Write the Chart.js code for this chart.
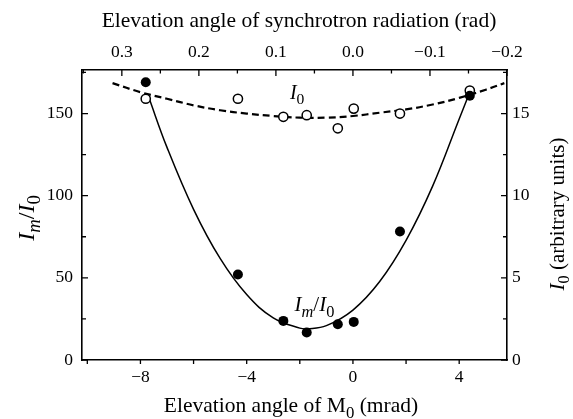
<!DOCTYPE html>
<html>
<head>
<meta charset="utf-8">
<title>Im/I0 versus elevation angle</title>
<script src="https://cdn.jsdelivr.net/npm/chart.js"></script>
<style>
  body { margin: 0; background: #fff; }
  #wrap { width: 573px; height: 419px; }
</style>
</head>
<body>
<div id="wrap"><canvas id="chart" width="573" height="419"></canvas></div>
<script>
// measured points (same angles for both series)
const angleMrad = [-7.8, -4.33, -2.62, -1.74, -0.57, 0.03, 1.77, 4.4];
const imOverI0 = [169, 52, 23.8, 16.7, 21.8, 23.2, 78.2, 160.8];
const i0Values = [15.9, 15.9, 14.8, 14.9, 14.1, 15.3, 15.0, 16.4];

// solid curve through Im/I0
const fitImX = [-7.7, -7, -6, -5, -4, -3, -2, -1.7, -1, 0, 1, 2, 3, 4, 4.35];
const fitImY = [160.5, 129.4, 91.7, 61.8, 39.8, 25.6, 19.4, 19, 20.9, 30.4, 47.6, 72.8, 105.8, 146.7, 161];

// dashed curve through I0
const fitI0X = [-9.05, -8, -7, -6, -5, -4, -3, -2, -1, 0, 1, 2, 3, 4, 5, 5.7];
const fitI0Y = [16.85, 16.3, 15.9, 15.5, 15.2, 15.0, 14.85, 14.75, 14.75, 14.85, 15.05, 15.25, 15.55, 15.95, 16.45, 16.85];

// axes
const bottomTicks = [-8, -4, 0, 4];
const bottomMinor = [-10, -6, -2, 2];
const topTicks = [0.3, 0.2, 0.1, 0.0, -0.1, -0.2];
const topMinor = [0.35, 0.25, 0.15, 0.05, -0.05, -0.15];
const leftTicks = [0, 50, 100, 150];
const leftMinor = [25, 75, 125, 175];
const rightTicks = [0, 5, 10, 15];
const rightMinor = [2.5, 7.5, 12.5, 17.5];

const xMin = -10.2, xMax = 5.8;
const radPerMrad = -0.2 / 5.8;
const yMax = 176.5;

const SERIF = '"Liberation Serif", "Times New Roman", serif';
const minus = v => String(v).replace('-', '\u2212');

function pts(xs, ys) {
    return xs.map((x, i) => ({ x: x, y: ys[i] }));
}

// text with italic / subscript parts, centred on (x, y)
function drawRich(ctx, parts, x, y, size, rot) {
    ctx.save();
    ctx.translate(x, y);
    if (rot) ctx.rotate(rot);
    const fontOf = p => (p[1] ? 'italic ' : '') + (p[2] ? size * 0.78 : size) + 'px ' + SERIF;
    let total = 0;
    const widths = parts.map(p => {
        ctx.font = fontOf(p);
        const w = ctx.measureText(p[0]).width;
        total += w;
        return w;
    });
    let cx = -total / 2;
    ctx.textAlign = 'left';
    ctx.textBaseline = 'alphabetic';
    ctx.fillStyle = '#000';
    parts.forEach((p, i) => {
        ctx.font = fontOf(p);
        ctx.fillText(p[0], cx, size * 0.34 + (p[2] ? size * 0.25 : 0));
        cx += widths[i];
    });
    ctx.restore();
}

const decorations = {
    id: 'decorations',
    afterDraw(chart) {
        const ctx = chart.ctx;
        const a = chart.chartArea;
        const s = chart.scales;
        ctx.save();
        ctx.strokeStyle = '#000';
        ctx.lineWidth = 1.3;
        ctx.beginPath();
        const mark = (vals, len, fn) => vals.forEach(v => fn(v, len));
        // bottom: outward
        const bx = (v, len) => { const p = s.x.getPixelForValue(v); ctx.moveTo(p, a.bottom); ctx.lineTo(p, a.bottom + len); };
        mark(bottomTicks, 4, bx); mark(bottomMinor, 4, bx);
        // top: inward
        const tx = (v, len) => { const p = s.x2.getPixelForValue(v); ctx.moveTo(p, a.top); ctx.lineTo(p, a.top + len); };
        mark(topTicks, 6, tx); mark(topMinor, 3.5, tx);
        // left: inward
        const ly = (v, len) => { const p = s.y.getPixelForValue(v); ctx.moveTo(a.left, p); ctx.lineTo(a.left + len, p); };
        mark(leftTicks, 6, ly); mark(leftMinor, 4, ly);
        // right: inward
        const ry = (v, len) => { const p = s.y2.getPixelForValue(v); ctx.moveTo(a.right, p); ctx.lineTo(a.right - len, p); };
        mark(rightTicks, 6, ry); mark(rightMinor, 4, ry);
        ctx.stroke();
        ctx.restore();

        // axis titles
        drawRich(ctx, [['Elevation angle of synchrotron radiation (rad)', false, false]], 299, 20, 21.5, 0);
        drawRich(ctx, [['Elevation angle of M', false, false], ['0', false, true], [' (mrad)', false, false]], 291, 405, 21.5, 0);
        drawRich(ctx, [['I', true, false], ['m', true, true], ['/', false, false], ['I', true, false], ['0', false, true]], 26, 218, 24, -Math.PI / 2);
        drawRich(ctx, [['I', true, false], ['0', false, true], [' (arbitrary units)', false, false]], 557, 214, 21, -Math.PI / 2);

        // curve labels
        drawRich(ctx, [['I', true, false], ['0', false, true]],
            s.x.getPixelForValue(-2.1), s.y.getPixelForValue(163), 20, 0);
        drawRich(ctx, [['I', true, false], ['m', true, true], ['/', false, false], ['I', true, false], ['0', false, true]],
            s.x.getPixelForValue(-1.45), s.y.getPixelForValue(34), 21, 0);
    }
};

const tickFont = { family: SERIF, size: 17.5 };

new Chart(document.getElementById('chart'), {
    type: 'scatter',
    data: {
        datasets: [
            {
                label: 'Im/I0',
                data: pts(angleMrad, imOverI0),
                yAxisID: 'y',
                xAxisID: 'x',
                pointRadius: 5,
                pointBackgroundColor: '#000',
                pointBorderColor: '#000',
                pointBorderWidth: 0,
                order: 0
            },
            {
                label: 'I0',
                data: pts(angleMrad, i0Values),
                yAxisID: 'y2',
                xAxisID: 'x',
                pointRadius: 4.6,
                pointBackgroundColor: '#fff',
                pointBorderColor: '#000',
                pointBorderWidth: 1.5,
                order: 1
            },
            {
                label: 'Im/I0 fit',
                data: pts(fitImX, fitImY),
                yAxisID: 'y',
                xAxisID: 'x',
                showLine: true,
                tension: 0.4,
                borderColor: '#000',
                borderWidth: 1.5,
                pointRadius: 0,
                order: 3
            },
            {
                label: 'I0 fit',
                data: pts(fitI0X, fitI0Y),
                yAxisID: 'y2',
                xAxisID: 'x',
                showLine: true,
                tension: 0.4,
                borderColor: '#000',
                borderWidth: 2.2,
                borderDash: [7, 4],
                pointRadius: 0,
                order: 2
            }
        ]
    },
    options: {
        responsive: false,
        animation: false,
        layout: { padding: 0 },
        plugins: {
            legend: { display: false },
            tooltip: { enabled: false }
        },
        scales: {
            x: {
                type: 'linear',
                position: 'bottom',
                min: xMin,
                max: xMax,
                afterBuildTicks: sc => { sc.ticks = bottomTicks.map(v => ({ value: v })); },
                afterFit: sc => { sc.height = 59; },
                ticks: { color: '#000', font: tickFont, padding: 7, callback: v => minus(v) },
                grid: { display: false, drawTicks: false, tickLength: 0 },
                border: { display: true, color: '#000', width: 1.6 }
            },
            x2: {
                type: 'linear',
                position: 'top',
                reverse: true,
                min: xMax * radPerMrad,
                max: xMin * radPerMrad,
                afterBuildTicks: sc => { sc.ticks = topTicks.map(v => ({ value: v })); },
                afterFit: sc => { sc.height = 70; },
                ticks: { color: '#000', font: tickFont, padding: 7, callback: v => minus(v.toFixed(1)) },
                grid: { display: false, drawTicks: false, tickLength: 0 },
                border: { display: true, color: '#000', width: 1.6 }
            },
            y: {
                type: 'linear',
                position: 'left',
                min: 0,
                max: yMax,
                afterBuildTicks: sc => { sc.ticks = leftTicks.map(v => ({ value: v })); },
                afterFit: sc => { sc.width = 82; },
                ticks: { color: '#000', font: tickFont, padding: 9 },
                grid: { display: false, drawTicks: false, tickLength: 0 },
                border: { display: true, color: '#000', width: 1.6 }
            },
            y2: {
                type: 'linear',
                position: 'right',
                min: 0,
                max: yMax / 10,
                afterBuildTicks: sc => { sc.ticks = rightTicks.map(v => ({ value: v })); },
                afterFit: sc => { sc.width = 66; },
                ticks: { color: '#000', font: tickFont, padding: 5 },
                grid: { display: false, drawTicks: false, tickLength: 0 },
                border: { display: true, color: '#000', width: 1.6 }
            }
        }
    },
    plugins: [decorations]
});
</script>
</body>
</html>
